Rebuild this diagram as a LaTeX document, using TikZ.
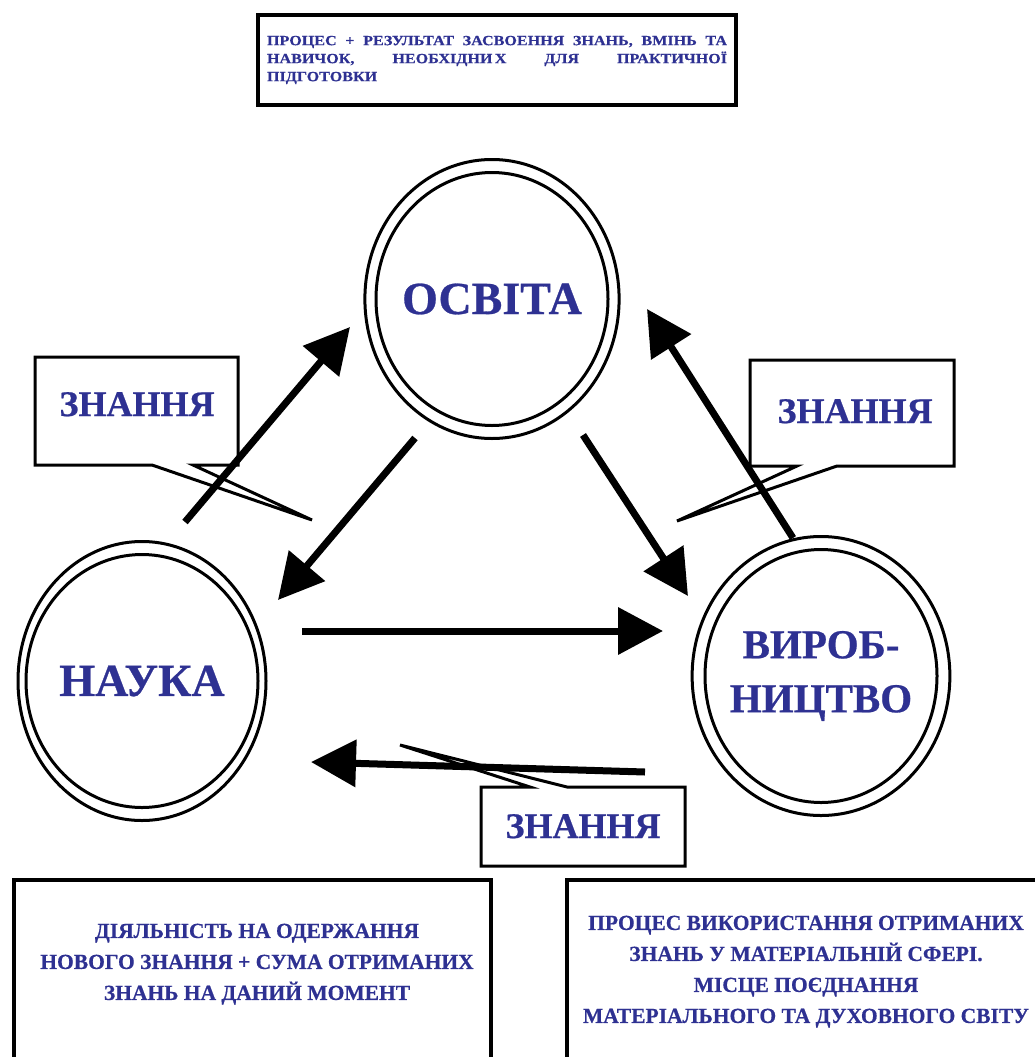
\documentclass[tikz,border=0pt]{standalone}
\usepackage{fontspec}
\setmainfont{Liberation Serif}[BoldFont={Liberation Serif Bold}, BoldFeatures={FakeBold=0.6}]
\newfontfamily\topfont{Liberation Serif Bold}[FakeStretch=1.15, FakeBold=0.5]
\usepackage{xcolor}
\definecolor{textblue}{HTML}{2E3192}
\usetikzlibrary{arrows.meta, positioning, shapes.geometric}
\tikzset{
    realm/.style={
        ellipse, draw, line width=3pt,
        inner sep=0pt,
        minimum width=248pt,
        minimum height=279pt,
        align=center, text=textblue,
        font=\bfseries\fontsize{46}{54}\selectfont
    },
    inring/.style={line width=3pt},
    flow/.style={
        line width=7pt,
        -{Triangle[length=45pt, width=46pt]},
    },
    callout/.style={draw, line width=3pt, line join=miter},
    word/.style={text=textblue, inner sep=0pt, anchor=base,
        font=\bfseries\fontsize{36}{40}\selectfont},
    framebox/.style={line width=3.5pt},
    note/.style={text=textblue, inner sep=0pt, anchor=north, align=center,
        font=\bfseries\fontsize{21.5}{31}\selectfont},
}

\begin{document}
\begin{tikzpicture}[x=1pt, y=-1pt]
    \useasboundingbox (0,0) rectangle (1035,1057);

    % Top definition box
    \node[draw, line width=4pt, text width=460pt, inner xsep=9pt, inner ysep=0pt,
          minimum height=90pt, align=justify, text=textblue,
          font=\topfont\fontsize{14}{18}\selectfont] (topbox) at (497,60)
        {ПРОЦЕС + РЕЗУЛЬТАТ ЗАСВОЕННЯ ЗНАНЬ, ВМІНЬ ТА\linebreak
         НАВИЧОК, НЕОБХІДНИ\,Х ДЛЯ ПРАКТИЧНОЇ\linebreak
         ПІДГОТОВКИ};

    % Three realms
    \node[realm] (osvita) at (492,299) {ОСВІТА};
    \node[realm] (nauka) at (142,681) {НАУКА};
    \node[realm, font=\bfseries\fontsize{41}{54}\selectfont] (vyrob) at (821,676) {ВИРОБ-\\НИЦТВО};
    \foreach \n in {osvita, nauka, vyrob}
        \draw[inring] (\n.center) ellipse [x radius=116pt, y radius=126.5pt];

    % Arrow end points
    \coordinate (n2o-a) at (185,522);
    \coordinate (n2o-b) at (350,327);
    \coordinate (o2n-a) at (415,438);
    \coordinate (o2n-b) at (278,600);
    \coordinate (o2v-a) at (583,435);
    \coordinate (o2v-b) at (688,596);
    \coordinate (v2o-a) at (793,538);
    \coordinate (v2o-b) at (647,309);
    \coordinate (n2v-a) at (302,631);
    \coordinate (n2v-b) at (663,631);
    \coordinate (v2n-a) at (645,772);
    \coordinate (v2n-b) at (311,762);

    \draw[flow] (n2o-a) -- (n2o-b);
    \draw[flow] (o2n-a) -- (o2n-b);
    \draw[flow] (o2v-a) -- (o2v-b);
    \draw[flow] (v2o-a) -- (v2o-b);
    \draw[flow] (n2v-a) -- (n2v-b);
    \draw[flow] (v2n-a) -- (v2n-b);

    % Callouts
    \draw[callout] (35,357) -- (238,357) -- (238,465) -- (193,465) -- (312,520)
        -- (152,465) -- (35,465) -- cycle;
    \node[word] (know-l) at (137,416) {ЗНАННЯ};

    \draw[callout] (750,360) -- (954,360) -- (954,466) -- (837,466) -- (677,521)
        -- (797,466) -- (750,466) -- cycle;
    \node[word] (know-r) at (855,423) {ЗНАННЯ};

    \draw[callout] (481,787) -- (530,787) -- (400,745) -- (567,787) -- (685,787)
        -- (685,866) -- (481,866) -- cycle;
    \node[word] (know-b) at (583,838) {ЗНАННЯ};

    % Bottom description boxes
    \draw[framebox] (14,1062) -- (14,880) -- (491,880) -- (491,1062);
    \node[note] (nauka-note) at (257,923.5)
        {ДІЯЛЬНІСТЬ НА ОДЕРЖАННЯ\\НОВОГО ЗНАННЯ + СУМА ОТРИМАНИХ\\ЗНАНЬ НА ДАНИЙ МОМЕНТ};

    \draw[framebox] (567,1062) -- (567,880) -- (1040,880);
    \node[note] (vyrob-note) at (806,915.5)
        {ПРОЦЕС ВИКОРИСТАННЯ ОТРИМАНИХ\\ЗНАНЬ У МАТЕРІАЛЬНІЙ СФЕРІ.\\МІСЦЕ ПОЄДНАННЯ\\МАТЕРІАЛЬНОГО ТА ДУХОВНОГО СВІТУ};
\end{tikzpicture}
\end{document}
